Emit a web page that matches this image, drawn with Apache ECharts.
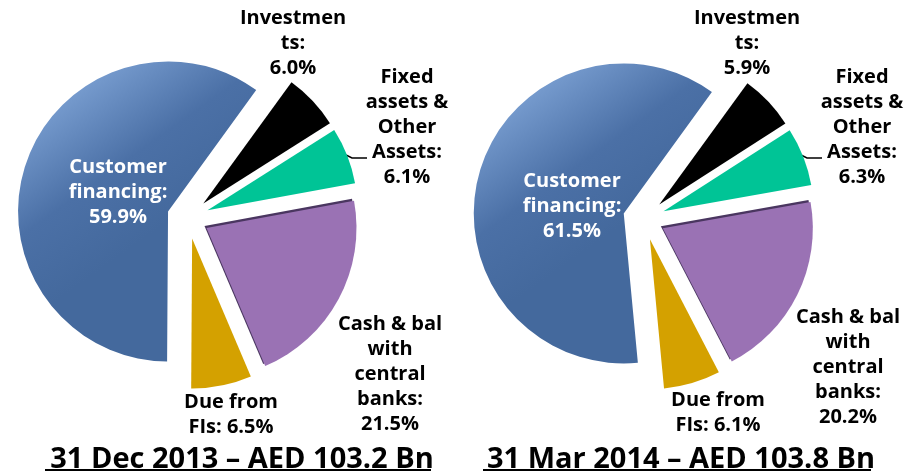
<!DOCTYPE html>
<html>
<head>
<meta charset="utf-8">
<script src="https://cdn.jsdelivr.net/npm/echarts@6/dist/echarts.min.js"></script>
<style>
  html, body { margin: 0; padding: 0; background: #fff; }
  #main { width: 904px; height: 472px; }
</style>
</head>
<body>
<div id="main"></div>
<script>
// asset mix, % of total assets
const categories = ['Investments', 'Fixed assets & Other Assets', 'Cash & bal with central banks', 'Due from FIs', 'Customer financing'];
const labelHeads = ['Investmen\nts:\n', 'Fixed\nassets &\nOther\nAssets:\n', 'Cash & bal\nwith\ncentral\nbanks:\n', 'Due from\nFIs: ', 'Customer\nfinancing:\n'];
const dec2013 = [6.0, 6.1, 21.5, 6.5, 59.9];
const mar2014 = [5.9, 6.3, 20.2, 6.1, 61.5];
const titles = ['31 Dec 2013 \u2013 AED 103.2 Bn', '31 Mar 2014 \u2013 AED 103.8 Bn'];

// label centres (px) per pie, same order as categories
const labelPos = [
  [[293, 43], [407, 127], [390, 374], [231, 415], [118, 192]],
  [[747, 43], [862, 127], [848, 367], [718, 413], [572, 206]]
];

const blueFill = new echarts.graphic.LinearGradient(0.15, 0.05, 0.6, 0.55, [
  { offset: 0, color: '#82a7d9' },
  { offset: 0.6, color: '#4b70a6' },
  { offset: 1, color: '#44699d' }
]);
const colors = ['#000000', '#00c496', '#9a72b4', '#d4a100', blueFill];

const font = '"Open Sans", "DejaVu Sans", sans-serif';

function makeSeries(values, center) {
  return {
    type: 'pie',
    center: center,
    radius: 150,
    startAngle: 54,
    clockwise: true,
    selectedMode: 'multiple',
    selectedOffset: 21,
    emphasis: { disabled: true },
    label: { show: false },
    labelLine: { show: false },
    data: values.map((v, i) => {
      let st = { color: colors[i] };
      if (i === 2) {   // dark rim on the purple slice
        st = { color: colors[i], shadowColor: '#4a3660', shadowOffsetX: -2, shadowOffsetY: -2, shadowBlur: 0 };
      }
      return {
        name: categories[i],
        value: v,
        selected: true,
        itemStyle: st,
        select: { itemStyle: st }
      };
    })
  };
}

// slice labels, text built from the data arrays
function makeLabels(values, idx) {
  return values.map((v, i) => ({
    type: 'text',
    x: labelPos[idx][i][0],
    y: labelPos[idx][i][1],
    z: 100,
    style: {
      text: labelHeads[i] + v.toFixed(1) + '%',
      fill: i === 4 ? '#fff' : '#000',
      fontFamily: font,
      fontWeight: 'bold',
      fontSize: 20,
      lineHeight: 25,
      align: 'center',
      verticalAlign: 'middle'
    }
  }));
}

const chart = echarts.init(document.getElementById('main'));
chart.setOption({
  animation: false,
  backgroundColor: '#fff',
  title: [
    { text: titles[0], left: 237, top: 440, textAlign: 'center',
      textStyle: { fontFamily: font, fontWeight: 'bold', fontSize: 29, color: '#000' } },
    { text: titles[1], left: 676, top: 440, textAlign: 'center',
      textStyle: { fontFamily: font, fontWeight: 'bold', fontSize: 29, color: '#000' } }
  ],
  graphic: [
    { type: 'line', shape: { x1: 45, y1: 470, x2: 431, y2: 470 }, style: { stroke: '#000', lineWidth: 2 } },
    { type: 'line', shape: { x1: 483, y1: 470, x2: 871, y2: 470 }, style: { stroke: '#000', lineWidth: 2 } },
    // leader lines to the fixed assets labels
    { type: 'polyline', shape: { points: [[346, 155], [352, 158], [367, 158]] }, style: { stroke: '#000', lineWidth: 1.5, fill: null } },
    { type: 'polyline', shape: { points: [[801, 155], [807, 158], [822, 158]] }, style: { stroke: '#000', lineWidth: 1.5, fill: null } }
  ].concat(makeLabels(dec2013, 0), makeLabels(mar2014, 1)),
  series: [
    makeSeries(dec2013, [188, 218]),
    makeSeries(mar2014, [644, 219])
  ]
});
</script>
</body>
</html>
